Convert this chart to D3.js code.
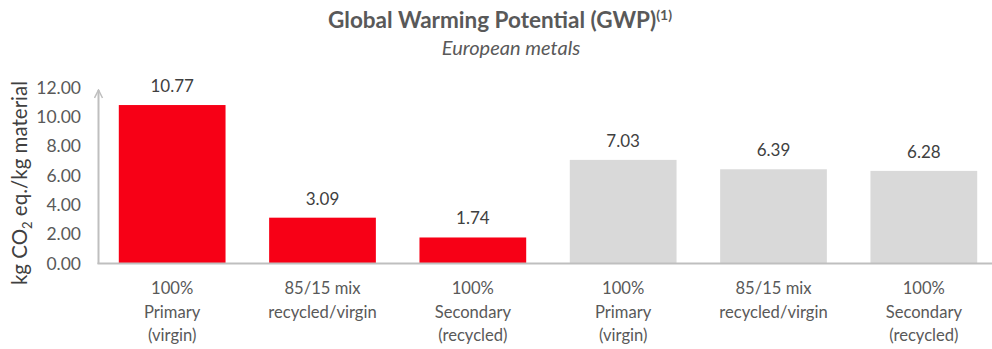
<!DOCTYPE html>
<meta charset="utf-8">
<style>
body { margin: 0; background: #fff; }
text { font-family: Lato, "Open Sans", sans-serif; }
.tick text { fill: #595959; font-size: 17.5px; }
.cat { fill: #595959; font-size: 16.6px; }
.val { fill: #404040; font-size: 17px; }
</style>
<svg width="992" height="349"></svg>
<script src="https://cdn.jsdelivr.net/npm/d3@7"></script>
<script>

var categories = ["red-primary", "red-mix", "red-secondary", "grey-primary", "grey-mix", "grey-secondary"];
var catLabels = [
  ["100%", "Primary", "(virgin)"],
  ["85/15 mix", "recycled/virgin"],
  ["100%", "Secondary", "(recycled)"],
  ["100%", "Primary", "(virgin)"],
  ["85/15 mix", "recycled/virgin"],
  ["100%", "Secondary", "(recycled)"]
];
var values = [10.77, 3.09, 1.74, 7.03, 6.39, 6.28];
var barColors = ["#f70016", "#f70016", "#f70016", "#d9d9d9", "#d9d9d9", "#d9d9d9"];
var yTicks = [0, 2, 4, 6, 8, 10, 12];

var svg = d3.select("svg");

var x = d3.scaleBand()
    .domain(categories)
    .range([97, 999])
    .paddingInner(0.29)
    .paddingOuter(0.145);

var y = d3.scaleLinear()
    .domain([0, 12])
    .range([263, 87]);

// title
var title = svg.append("text")
    .attr("x", 500)
    .attr("y", 28)
    .attr("text-anchor", "middle")
    .style("font-size", "22.5px")
    .style("font-weight", "bold")
    .style("fill", "#595959");
title.append("tspan").text("Global Warming Potential (GWP)");
title.append("tspan").attr("dy", -8).style("font-size", "14px").text("(1)");

svg.append("text")
    .attr("x", 511)
    .attr("y", 55)
    .attr("text-anchor", "middle")
    .style("font-size", "20px")
    .style("font-style", "italic")
    .style("fill", "#595959")
    .text("European metals");

// y axis label
var ylab = svg.append("text")
    .attr("transform", "translate(27,183) rotate(-90)")
    .attr("text-anchor", "middle")
    .style("font-size", "20.5px")
    .style("fill", "#404040");
ylab.append("tspan").text("kg CO");
ylab.append("tspan").attr("dy", 5).style("font-size", "13px").text("2");
ylab.append("tspan").attr("dy", -5).text(" eq./kg material");

// bars
svg.selectAll(".bar")
    .data(values)
  .enter().append("rect")
    .attr("class", "bar")
    .attr("x", function(d, i) { return x(categories[i]); })
    .attr("width", x.bandwidth())
    .attr("y", function(d) { return y(d); })
    .attr("height", function(d) { return y(0) - y(d); })
    .attr("fill", function(d, i) { return barColors[i]; });

// value labels
svg.selectAll(".val")
    .data(values)
  .enter().append("text")
    .attr("class", "val")
    .attr("x", function(d, i) { return x(categories[i]) + x.bandwidth() / 2; })
    .attr("y", function(d) { return y(d) - 13; })
    .attr("text-anchor", "middle")
    .text(function(d) { return d.toFixed(2); });

// y axis ticks (no line, labels only)
var yAxis = svg.append("g")
    .attr("transform", "translate(81,0)")
    .call(d3.axisLeft(y).tickValues(yTicks).tickSize(0).tickPadding(0)
      .tickFormat(function(d) { return d.toFixed(2); }));
yAxis.select(".domain").remove();
yAxis.selectAll(".tick text").attr("dy", "0.35em");

// axis lines
svg.append("defs").append("marker")
    .attr("id", "arrow")
    .attr("viewBox", "0 0 10 10")
    .attr("refX", 9).attr("refY", 5)
    .attr("markerWidth", 5).attr("markerHeight", 5)
    .attr("orient", "auto")
  .append("path")
    .attr("d", "M1,1 L9,5 L1,9")
    .attr("fill", "none")
    .attr("stroke", "#bfbfbf")
    .attr("stroke-width", 1.5);

svg.append("line")
    .attr("x1", 98.5).attr("x2", 98.5)
    .attr("y1", y(0) + 1).attr("y2", 90)
    .attr("stroke", "#bfbfbf")
    .attr("stroke-width", 2)
    .attr("marker-end", "url(#arrow)");

svg.append("line")
    .attr("x1", 97.5).attr("x2", 992)
    .attr("y1", y(0) + 0.5).attr("y2", y(0) + 0.5)
    .attr("stroke", "#bfbfbf")
    .attr("stroke-width", 2);

// category labels
svg.selectAll(".cat")
    .data(catLabels)
  .enter().append("text")
    .attr("class", "cat")
    .attr("text-anchor", "middle")
    .attr("transform", function(d, i) {
      return "translate(" + (x(categories[i]) + x.bandwidth() / 2) + ",294)";
    })
    .each(function(lines) {
      var t = d3.select(this);
      lines.forEach(function(l, j) {
        t.append("tspan").attr("x", 0).attr("y", j * 23.5).text(l);
      });
    });

</script>
